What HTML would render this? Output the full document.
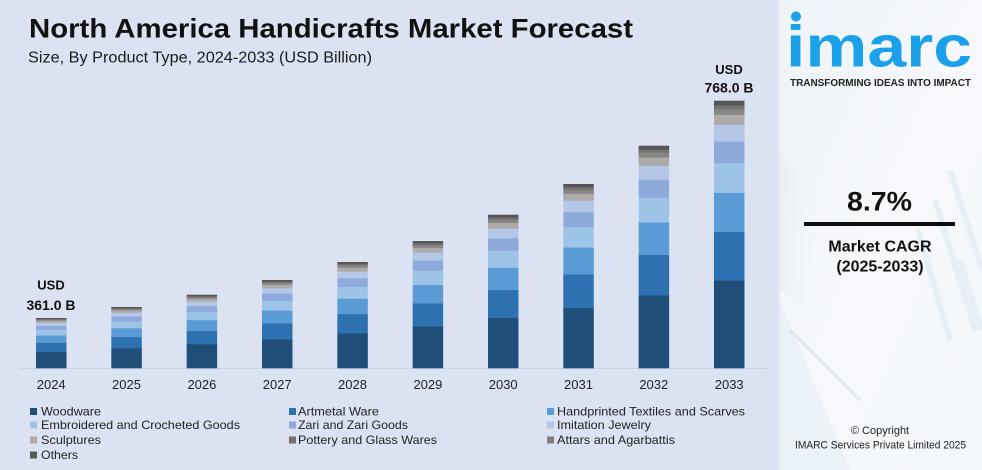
<!DOCTYPE html>
<html>
<head>
<meta charset="utf-8">
<style>
  html, body { margin: 0; padding: 0; background: #dbe3f2; }
  svg { display: block; }
  text { font-family: "Liberation Sans", Arial, sans-serif; }
</style>
</head>
<body>
<svg width="982" height="470" viewBox="0 0 982 470" xmlns="http://www.w3.org/2000/svg">
  <defs>
    <linearGradient id="panel" x1="0" y1="0" x2="1" y2="1">
      <stop offset="0" stop-color="#eef3f9"/>
      <stop offset="0.5" stop-color="#f6f8fb"/>
      <stop offset="1" stop-color="#f4f7fb"/>
    </linearGradient>
    <linearGradient id="lb" x1="0" y1="0" x2="1" y2="0">
      <stop offset="0" stop-color="#dfe8f1" stop-opacity="0.8"/>
      <stop offset="1" stop-color="#e9f0f6" stop-opacity="0"/>
    </linearGradient>
  </defs>

  <!-- left background -->
  <rect x="0" y="0" width="778" height="470" fill="#dbe3f2"/>

  <!-- right panel -->
  <rect x="778" y="0" width="204" height="470" fill="url(#panel)"/>
  <rect x="778" y="0" width="2" height="470" fill="#e4eaf4"/>
  <!-- faint background decoration -->
  <polygon points="780,300 850,470 780,470" fill="#e6eef5" opacity="0.7"/>
  <polygon points="780,150 820,190 820,320 780,290" fill="url(#lb)" opacity="0.5"/>
  <line x1="790" y1="330" x2="860" y2="400" stroke="#d3e0ea" stroke-width="4" opacity="0.5"/>
  <g stroke="#d6e6f1" stroke-width="6" opacity="0.45">
    <line x1="935" y1="200" x2="975" y2="330"/>
    <line x1="950" y1="170" x2="982" y2="270"/>
    <line x1="918" y1="230" x2="950" y2="340"/>
    <line x1="960" y1="260" x2="982" y2="330"/>
  </g>

  <!-- Title -->
  <text x="29" y="37.5" font-size="27" font-weight="bold" fill="#111" textLength="604" lengthAdjust="spacingAndGlyphs">North America Handicrafts Market Forecast</text>
  <text x="28" y="62.5" font-size="15.5" fill="#1a1a1a" textLength="344" lengthAdjust="spacingAndGlyphs">Size, By Product Type, 2024-2033 (USD Billion)</text>

  <!-- axis line -->
  <rect x="20" y="368" width="747" height="1" fill="#c9d3e4"/>

  <!-- Bars -->
  <g id="bars"></g>

  <!-- value labels -->
  <text x="51" y="289.5" font-size="13" font-weight="bold" fill="#111" text-anchor="middle">USD</text>
  <text x="51" y="310" font-size="13.5" font-weight="bold" fill="#111" text-anchor="middle" textLength="49" lengthAdjust="spacingAndGlyphs">361.0 B</text>
  <text x="729" y="74" font-size="13" font-weight="bold" fill="#111" text-anchor="middle">USD</text>
  <text x="729" y="92.3" font-size="13.5" font-weight="bold" fill="#111" text-anchor="middle" textLength="49" lengthAdjust="spacingAndGlyphs">768.0 B</text>

  <!-- year labels -->
  <g font-size="13" fill="#222" text-anchor="middle">
    <text x="51.2" y="389">2024</text>
    <text x="126.5" y="389">2025</text>
    <text x="201.9" y="389">2026</text>
    <text x="277.2" y="389">2027</text>
    <text x="352.5" y="389">2028</text>
    <text x="427.9" y="389">2029</text>
    <text x="503.2" y="389">2030</text>
    <text x="578.5" y="389">2031</text>
    <text x="653.8" y="389">2032</text>
    <text x="729.2" y="389">2033</text>
  </g>

  <!-- Legend -->
  <g font-size="12" fill="#222">
    <rect x="30" y="408" width="7" height="7" fill="#1f4e79"/>
    <text x="41" y="415.5" textLength="60" lengthAdjust="spacingAndGlyphs">Woodware</text>
    <rect x="289" y="408" width="7" height="7" fill="#2e71b1"/>
    <text x="298" y="415.5" textLength="81" lengthAdjust="spacingAndGlyphs">Artmetal Ware</text>
    <rect x="547" y="408" width="7" height="7" fill="#5b9bd5"/>
    <text x="557" y="415.5" textLength="188" lengthAdjust="spacingAndGlyphs">Handprinted Textiles and Scarves</text>

    <rect x="30" y="421.5" width="7" height="7" fill="#9dc3e6"/>
    <text x="41" y="429" textLength="199" lengthAdjust="spacingAndGlyphs">Embroidered and Crocheted Goods</text>
    <rect x="289" y="421.5" width="7" height="7" fill="#8eaadb"/>
    <text x="298" y="429" textLength="110" lengthAdjust="spacingAndGlyphs">Zari and Zari Goods</text>
    <rect x="547" y="421.5" width="7" height="7" fill="#b4c7e7"/>
    <text x="557" y="429" textLength="94" lengthAdjust="spacingAndGlyphs">Imitation Jewelry</text>

    <rect x="30" y="436.5" width="7" height="7" fill="#aeaaaa"/>
    <text x="41" y="444" textLength="60" lengthAdjust="spacingAndGlyphs">Sculptures</text>
    <rect x="289" y="436.5" width="7" height="7" fill="#767171"/>
    <text x="298" y="444" textLength="139" lengthAdjust="spacingAndGlyphs">Pottery and Glass Wares</text>
    <rect x="547" y="436.5" width="7" height="7" fill="#7f7f7f"/>
    <text x="557" y="444" textLength="118" lengthAdjust="spacingAndGlyphs">Attars and Agarbattis</text>

    <rect x="30" y="451.5" width="7" height="7" fill="#595959"/>
    <text x="41" y="459" textLength="37" lengthAdjust="spacingAndGlyphs">Others</text>
  </g>

  <!-- imarc logo -->
  <circle cx="796" cy="16.5" r="5" fill="#1ba1ea"/>
  <text x="786" y="66.5" font-size="58" font-weight="bold" fill="#1ba1ea" textLength="186" lengthAdjust="spacingAndGlyphs">imarc</text>
  <text x="790" y="86" font-size="9.8" font-weight="bold" fill="#222" textLength="181" lengthAdjust="spacingAndGlyphs">TRANSFORMING IDEAS INTO IMPACT</text>

  <!-- CAGR -->
  <text x="879.5" y="210.7" font-size="26.5" font-weight="bold" fill="#111" text-anchor="middle" textLength="65" lengthAdjust="spacingAndGlyphs">8.7%</text>
  <rect x="804" y="222" width="151" height="4" fill="#0d0d0d"/>
  <text x="880" y="251.7" font-size="16" font-weight="bold" fill="#111" text-anchor="middle">Market CAGR</text>
  <text x="880" y="271.5" font-size="16" font-weight="bold" fill="#111" text-anchor="middle">(2025-2033)</text>

  <!-- copyright -->
  <text x="880" y="434" font-size="11" fill="#222" text-anchor="middle">© Copyright</text>
  <text x="880.5" y="448.5" font-size="11" fill="#222" text-anchor="middle" textLength="171" lengthAdjust="spacingAndGlyphs">IMARC Services Private Limited 2025</text>

  <script>
    (function(){
      var heights=[50,61,73.3,88,106,127,153.3,184,222.3,267.3];
      var fr=[0.328,0.182,0.146,0.111,0.081,0.063,0.037,0.021,0.014,0.017];
      var cols=["#1f4e79","#2e71b1","#5b9bd5","#9dc3e6","#8eaadb","#b4c7e7","#aeaaaa","#8a8585","#747474","#555555"];
      var g=document.getElementById("bars");
      var ns="http://www.w3.org/2000/svg";
      for(var i=0;i<10;i++){
        var x=36+75.33*i, base=368, H=heights[i], y=base;
        for(var k=0;k<10;k++){
          var h=H*fr[k];
          if(k==9){h=y-(base-H);}
          var r=document.createElementNS(ns,"rect");
          r.setAttribute("x",x.toFixed(2));
          r.setAttribute("y",(y-h).toFixed(2));
          r.setAttribute("width","30.5");
          r.setAttribute("height",(h+0.3).toFixed(2));
          r.setAttribute("fill",cols[k]);
          g.appendChild(r);
          y-=h;
        }
      }
    })();
  </script>
</svg>
</body>
</html>
